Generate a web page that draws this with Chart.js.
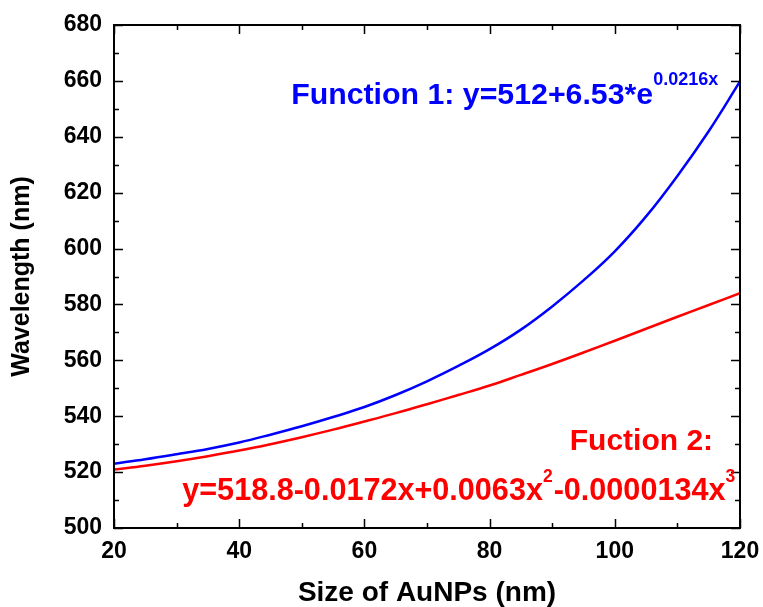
<!DOCTYPE html>
<html>
<head>
<meta charset="utf-8">
<script src="https://cdn.jsdelivr.net/npm/chart.js@4/dist/chart.umd.min.js"></script>
<style>
html,body{margin:0;padding:0;background:#fff;}
#wrap{position:relative;width:763px;height:607px;}
</style>
</head>
<body>
<div id="wrap"><canvas id="c" width="763" height="607"></canvas></div>
<script>
// Values
const sizes = [20,25,30,35,40,45,50,55,60,65,70,75,80,85,90,95,100,105,110,115,120];
const function1 = [523.0,524.6,526.4,528.3,530.6,533.4,536.4,539.7,543.3,547.6,552.5,558.0,564.0,571.0,579.3,588.6,599.0,611.5,626.0,642.0,659.8];
const function2 = [520.9,522.3,523.9,525.7,527.7,530.0,532.5,535.2,538.1,541.1,544.3,547.6,551.0,554.8,558.7,562.8,567.0,571.3,575.6,579.8,584.0];
const xTicks = [20,40,60,80,100,120];
const yTicks = [500,520,540,560,580,600,620,640,660,680];
const xMinor = [30,50,70,90,110];
const yMinor = [510,530,550,570,590,610,630,650,670];

const FONT = "'Liberation Sans', Arial, sans-serif";

const framePlugin = {
  id: 'frame',
  afterDatasetsDraw(chart) {
    const ctx = chart.ctx, a = chart.chartArea;
    const xs = chart.scales.x, ys = chart.scales.y;
    ctx.save();
    ctx.strokeStyle = '#000';
    ctx.lineWidth = 2;
    ctx.strokeRect(a.left, a.top, a.right - a.left, a.bottom - a.top);
    ctx.lineWidth = 1.5;
    const major = 9, minor = 5;
    const drawX = (v, len) => {
      const p = Math.round(xs.getPixelForValue(v)) + 0.5;
      ctx.beginPath();
      ctx.moveTo(p, a.bottom); ctx.lineTo(p, a.bottom - len);
      ctx.moveTo(p, a.top); ctx.lineTo(p, a.top + len);
      ctx.stroke();
    };
    const drawY = (v, len) => {
      const p = Math.round(ys.getPixelForValue(v)) + 0.5;
      ctx.beginPath();
      ctx.moveTo(a.left, p); ctx.lineTo(a.left + len, p);
      ctx.moveTo(a.right, p); ctx.lineTo(a.right - len, p);
      ctx.stroke();
    };
    xTicks.forEach(v => drawX(v, major));
    xMinor.forEach(v => drawX(v, minor));
    yTicks.forEach(v => drawY(v, major));
    yMinor.forEach(v => drawY(v, minor));
    ctx.restore();

    // equations
    const px = v => xs.getPixelForValue(v);
    const py = v => ys.getPixelForValue(v);
    const seg = (parts, x, y, color, size, supSize, rise) => {
      ctx.save();
      ctx.fillStyle = color;
      ctx.textBaseline = 'alphabetic';
      ctx.textAlign = 'left';
      let cx = x;
      parts.forEach(p => {
        ctx.font = 'bold ' + (p.sup ? supSize : size) + 'px ' + FONT;
        ctx.fillText(p.t, cx, p.sup ? y - rise : y);
        cx += ctx.measureText(p.t).width + (p.sup ? 1 : 0);
      });
      ctx.restore();
    };
    seg([{t:'Function 1: y=512+6.53*e'},{t:'0.0216x',sup:true}], px(48.3), py(651.8), '#0000FF', 30.3, 18, 19);
    ctx.save();
    ctx.fillStyle = '#FF0000';
    ctx.font = 'bold 30px ' + FONT;
    ctx.textAlign = 'right';
    ctx.fillText('Fuction 2:', px(115.7), py(528.0));
    ctx.restore();
    seg([{t:'y=518.8-0.0172x+0.0063x'},{t:'2',sup:true},{t:'-0.0000134x'},{t:'3',sup:true}], px(30.9), py(510.0), '#FF0000', 30.6, 17.5, 18);
  }
};

new Chart(document.getElementById('c'), {
  type: 'line',
  data: {
    datasets: [
      { label: 'Function 1', data: sizes.map((s,i)=>({x:s,y:function1[i]})), borderColor: '#0000FF', borderWidth: 2.5, pointRadius: 0, tension: 0.4, fill: false },
      { label: 'Function 2', data: sizes.map((s,i)=>({x:s,y:function2[i]})), borderColor: '#FF0000', borderWidth: 2.5, pointRadius: 0, tension: 0.4, fill: false }
    ]
  },
  options: {
    responsive: false,
    animation: false,
    devicePixelRatio: 1,
    layout: { padding: { left: 0, top: 25, right: 23, bottom: 0 } },
    plugins: { legend: { display: false }, tooltip: { enabled: false } },
    scales: {
      x: {
        type: 'linear', min: 20, max: 120,
        afterFit(s) { s.height = 79; s.paddingLeft = 0; s.paddingRight = 0; },
        afterBuildTicks(s) { s.ticks = xTicks.map(v => ({value: v})); },
        grid: { display: false, drawTicks: false },
        border: { display: true, color: '#000', width: 2 },
        ticks: { color: '#000', font: { family: FONT, size: 23, weight: 'bold' }, padding: 10, maxRotation: 0 },
        title: { display: true, text: 'Size of AuNPs (nm)', color: '#000', font: { family: FONT, size: 28, weight: 'bold', lineHeight: 1 }, padding: { top: 0, bottom: 0 } }
      },
      y: {
        type: 'linear', min: 500, max: 680,
        afterFit(s) { s.width = 114; s.paddingTop = 0; s.paddingBottom = 0; },
        afterBuildTicks(s) { s.ticks = yTicks.map(v => ({value: v})); },
        grid: { display: false, drawTicks: false },
        border: { display: true, color: '#000', width: 2 },
        ticks: { color: '#000', font: { family: FONT, size: 23, weight: 'bold' }, padding: 12 },
        title: { display: true, text: 'Wavelength (nm)', color: '#000', font: { family: FONT, size: 25, weight: 'bold', lineHeight: 1 }, padding: { top: 10, bottom: 0 } }
      }
    }
  },
  plugins: [framePlugin]
});
</script>
</body>
</html>
